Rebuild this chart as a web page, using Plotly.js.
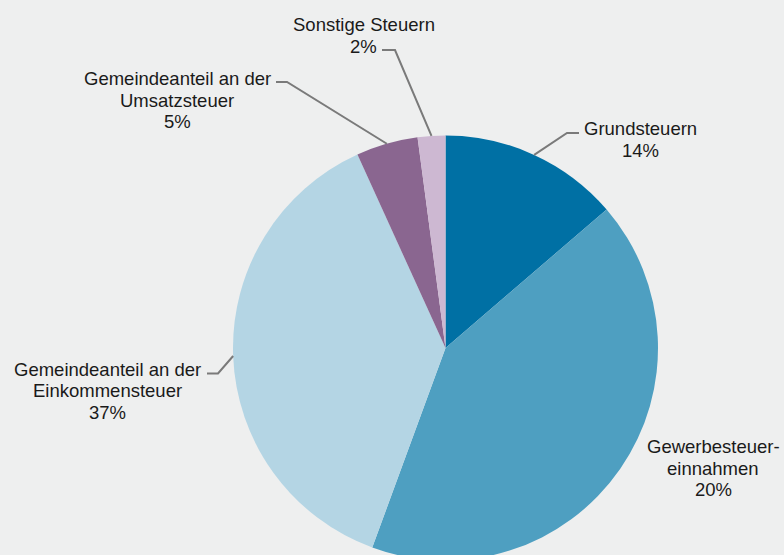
<!DOCTYPE html>
<html>
<head>
<meta charset="utf-8">
<script src="https://cdn.plot.ly/plotly-3.0.1.min.js"></script>
<style>
html,body{margin:0;padding:0;background:#eeefef;overflow:hidden;width:784px;height:555px;}
#chart{width:784px;height:575px;}
</style>
</head>
<body>
<div id="chart"></div>
<script>
// Data
const categories = [["Grundsteuern"], ["Gewerbesteuer-", "einnahmen"], ["Gemeindeanteil an der", "Einkommensteuer"], ["Gemeindeanteil an der", "Umsatzsteuer"], ["Sonstige Steuern"]];
const sliceValues = [13.7, 41.9, 37.6, 4.7, 2.1];
const labelPercents = ["14%", "20%", "37%", "5%", "2%"];
const colors = ["#0070a4", "#4e9fc1", "#b4d5e4", "#8a6690", "#cdb8d2"];

// Layout geometry (pixels)
const W = 784, H = 575;
const cx = 445.5, cy = 348, R = 212.5;
const lineGap = 21.7;
// label centre x and first-line centre y, leader elbows (pixel), null = no leader
const labelPos = [
  {x: 640, y: 127.5, elbow: [[567,133],[579,133]]},
  {x: 713, y: 445, elbow: null},
  {x: 108, y: 367.5, elbow: [[218,373.5],[207,373.5]]},
  {x: 177, y: 77, elbow: [[287,82],[276,82]]},
  {x: 363.5, y: 23.3, elbow: [[395,50],[382,50]]}
];
const px = x => x / W;
const py = y => 1 - y / H;

const total = sliceValues.reduce((a, b) => a + b, 0);
let cum = 0;
const annotations = [], shapes = [];
sliceValues.forEach((v, i) => {
  const mid = (cum + v / 2) / total * 2 * Math.PI;
  cum += v;
  const ex = cx + R * Math.sin(mid), ey = cy - R * Math.cos(mid);
  const lp = labelPos[i];
  const lines = categories[i].concat([labelPercents[i]]);
  lines.forEach((t, k) => {
    annotations.push({
      xref: 'paper', yref: 'paper', x: px(lp.x), y: py(lp.y + k * lineGap + 1.5),
      xanchor: 'center', yanchor: 'middle', showarrow: false, align: 'center',
      text: t,
      font: {family: 'Liberation Sans, Arial, sans-serif', size: 18.5, color: '#1a1a1a'}
    });
  });
  if (lp.elbow) {
    let path = 'M' + px(ex) + ',' + py(ey);
    lp.elbow.forEach(p => { path += ' L' + px(p[0]) + ',' + py(p[1]); });
    shapes.push({type: 'path', xref: 'paper', yref: 'paper', path: path,
      line: {color: '#7a7a7a', width: 2}});
  }
});

const trace = {
  type: 'pie',
  values: sliceValues,
  labels: categories.map(c => c.join(' ')),
  marker: {colors: colors, line: {width: 0}},
  sort: false,
  direction: 'clockwise',
  rotation: 0,
  textinfo: 'none',
  hoverinfo: 'none',
  domain: {x: [(cx - R) / W, (cx + R) / W], y: [1 - (cy + R) / H, 1 - (cy - R) / H]}
};

const layout = {
  width: W, height: H,
  margin: {l: 0, r: 0, t: 0, b: 0},
  paper_bgcolor: '#eeefef',
  plot_bgcolor: '#eeefef',
  showlegend: false,
  annotations: annotations,
  shapes: shapes
};

Plotly.newPlot('chart', [trace], layout, {displayModeBar: false, staticPlot: true});
</script>
</body>
</html>
